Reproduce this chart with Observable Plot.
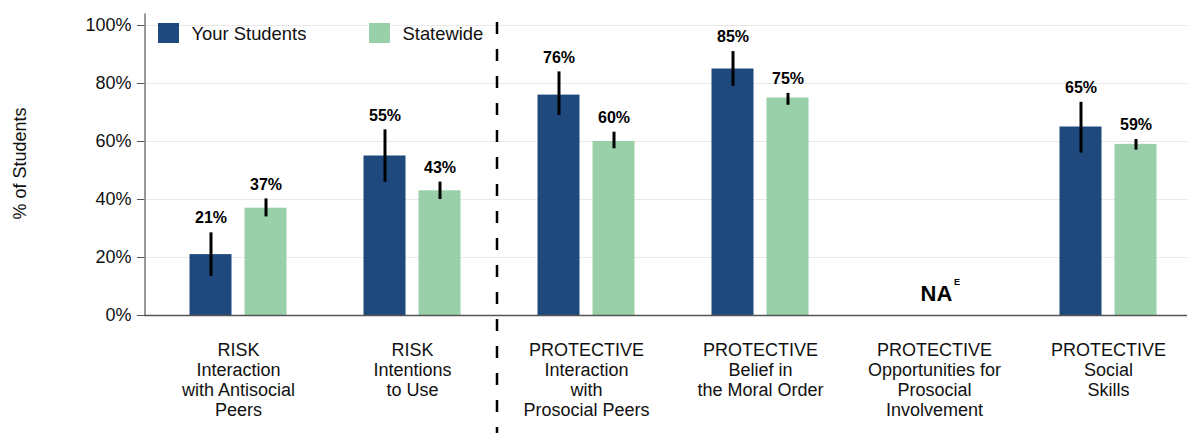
<!DOCTYPE html>
<html>
<head>
<meta charset="utf-8">
<script src="https://cdn.jsdelivr.net/npm/d3@7"></script>
<script src="https://cdn.jsdelivr.net/npm/@observablehq/plot@0.6"></script>
<style>
  html, body { margin: 0; padding: 0; background: #fff; }
  #wrap { position: relative; width: 1187px; height: 433px; font-family: "Liberation Sans", Arial, sans-serif; }
  .lg { position: absolute; font-size: 18.4px; color: #111; line-height: 1; }
  .sw { position: absolute; width: 21px; height: 20px; }
</style>
</head>
<body>
<div id="wrap"></div>
<script>
const categories = [
  "RISK\nInteraction\nwith Antisocial\nPeers",
  "RISK\nIntentions\nto Use",
  "PROTECTIVE\nInteraction\nwith\nProsocial Peers",
  "PROTECTIVE\nBelief in\nthe Moral Order",
  "PROTECTIVE\nOpportunities for\nProsocial\nInvolvement",
  "PROTECTIVE\nSocial\nSkills"
];
const seriesNames = ["Your Students", "Statewide"];
const seriesColors = ["#1f497d", "#99d0aa"];
const yourStudents = [21, 55, 76, 85, null, 65];
const yourLow      = [13.5, 46, 69, 79, null, 56];
const yourHigh     = [28.5, 64, 84, 91, null, 73.5];
const statewide    = [37, 43, 60, 75, null, 59];
const stateLow     = [34, 40, 57.5, 72.5, null, 57];
const stateHigh    = [40.2, 46, 63.2, 76.6, null, 60.7];
const yTicks = [0, 20, 40, 60, 80, 100];
const naLabel = "NA";
const naSup = "E";
const yTitle = "% of Students";

const rowsYS = categories.map((c, i) => ({cat: c, v: yourStudents[i], lo: yourLow[i], hi: yourHigh[i]})).filter(d => d.v != null);
const rowsSW = categories.map((c, i) => ({cat: c, v: statewide[i], lo: stateLow[i], hi: stateHigh[i]})).filter(d => d.v != null);
const naRows = categories.filter((c, i) => yourStudents[i] == null && statewide[i] == null);

const off = 27.5;
const plot = Plot.plot({
  width: 1187,
  height: 433,
  marginLeft: 144,
  marginRight: 0,
  marginTop: 25,
  marginBottom: 118,
  style: {fontFamily: "'Liberation Sans', Arial, sans-serif", color: "#111", background: "#fff"},
  x: {domain: categories, range: [150.5, 1194.5], padding: 0},
  y: {domain: [0, 100]},
  marks: [
    Plot.ruleY(yTicks.filter(d => d > 0), {stroke: "#e8e8e8", strokeWidth: 1}),
    Plot.barY(rowsYS, {x: "cat", y: "v", fill: seriesColors[0], insetLeft: 38.5, insetRight: 93.5}),
    Plot.barY(rowsSW, {x: "cat", y: "v", fill: seriesColors[1], insetLeft: 93.5, insetRight: 38.5}),
    Plot.ruleX(rowsYS, {x: "cat", y1: "lo", y2: "hi", dx: -off, stroke: "#000", strokeWidth: 3}),
    Plot.ruleX(rowsSW, {x: "cat", y1: "lo", y2: "hi", dx: off, stroke: "#000", strokeWidth: 3}),
    Plot.text(rowsYS, {x: "cat", y: "hi", text: d => d.v + "%", dx: -off, dy: -14.5, fontSize: 16, fontWeight: "bold", fill: "#000"}),
    Plot.text(rowsSW, {x: "cat", y: "hi", text: d => d.v + "%", dx: off, dy: -14.5, fontSize: 16, fontWeight: "bold", fill: "#000"}),
    Plot.text(naRows, {x: d => d, y: 0, text: () => naLabel, dx: 2, dy: -21.3, fontSize: 22, fontWeight: "bold", fill: "#000"}),
    Plot.text(naRows, {x: d => d, y: 0, text: () => naSup, dx: 22.5, dy: -33, fontSize: 9, fontWeight: "bold", fill: "#000"}),
    Plot.ruleY([0], {stroke: "#555", strokeWidth: 1.5}),
    Plot.ruleX([categories[0]], {y1: 0, y2: 104, dx: -93.5, stroke: "#555", strokeWidth: 1.2}),
    Plot.ruleX([categories[1]], {y1: 101, y2: -41, dx: 84.5, stroke: "#000", strokeWidth: 2.5, strokeDasharray: "12,15"}),
    Plot.axisY({ticks: yTicks, tickFormat: d => d + "%", tickSize: 7, tickPadding: 6, fontSize: 18, label: null, stroke: "#555"}),
    Plot.axisX({tickSize: 0, tickPadding: 26.5, fontSize: 18, lineHeight: 1.11, label: null}),
    Plot.text([yTitle], {frameAnchor: "left", textAnchor: "middle", rotate: -90, dx: -124, dy: -7, fontSize: 18, fill: "#111"})
  ]
});
const wrap = document.getElementById("wrap");
wrap.appendChild(plot);
const legendPos = [{sq: 158, tx: 191.5}, {sq: 369, tx: 402.5}];
seriesNames.forEach((name, i) => {
  const s = document.createElement("div");
  s.className = "sw";
  s.style.left = legendPos[i].sq + "px";
  s.style.top = "23px";
  s.style.background = seriesColors[i];
  wrap.appendChild(s);
  const t = document.createElement("div");
  t.className = "lg";
  t.style.left = legendPos[i].tx + "px";
  t.style.top = "25px";
  t.textContent = name;
  wrap.appendChild(t);
});
</script>
</body>
</html>
